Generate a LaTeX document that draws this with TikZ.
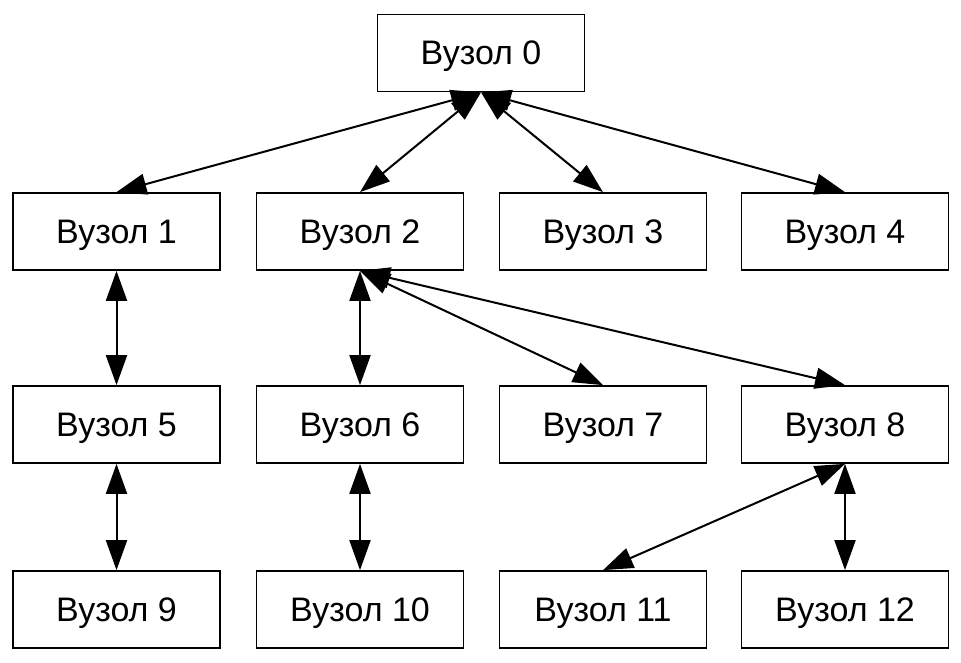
\documentclass[tikz,border=0pt]{standalone}
\usepackage{fontspec}
\setmainfont{Liberation Sans}
\usetikzlibrary{arrows.meta}
\begin{document}
\begin{tikzpicture}[x=1pt,y=-1pt,
  box/.style={draw=black,line width=1.7pt,minimum width=207pt,minimum height=77pt,inner sep=0pt,text height=24pt,text depth=0pt,font=\fontsize{34}{40}\selectfont},
  link/.style={line width=2pt,{Triangle[length=30pt,width=21pt]}-{Triangle[length=30pt,width=21pt]}}]
\useasboundingbox[fill=white] (0,0) rectangle (961,663);
\node[box] (n0) at (481,53) {Вузол 0};
\node[box] (n1) at (116.5,231.5) {Вузол 1};
\node[box] (n2) at (360,231.5) {Вузол 2};
\node[box] (n3) at (603,231.5) {Вузол 3};
\node[box] (n4) at (845,231.5) {Вузол 4};
\node[box] (n5) at (116.5,424.5) {Вузол 5};
\node[box] (n6) at (360,424.5) {Вузол 6};
\node[box] (n7) at (603,424.5) {Вузол 7};
\node[box] (n8) at (845,424.5) {Вузол 8};
\node[box] (n9) at (116.5,609.5) {Вузол 9};
\node[box] (n10) at (360,609.5) {Вузол 10};
\node[box] (n11) at (603,609.5) {Вузол 11};
\node[box] (n12) at (845,609.5) {Вузол 12};
\draw[link] (n0.south) -- (n1.north);
\draw[link] (n0.south) -- (n2.north);
\draw[link] (n0.south) -- (n3.north);
\draw[link] (n0.south) -- (n4.north);
\draw[link] (n1.south) -- (n5.north);
\draw[link] (n2.south) -- (n6.north);
\draw[link] (n2.south) -- (n7.north);
\draw[link] (n2.south) -- (n8.north);
\draw[link] (n5.south) -- (n9.north);
\draw[link] (n6.south) -- (n10.north);
\draw[link] (n8.south) -- (n11.north);
\draw[link] (n8.south) -- (n12.north);
\end{tikzpicture}
\end{document}
